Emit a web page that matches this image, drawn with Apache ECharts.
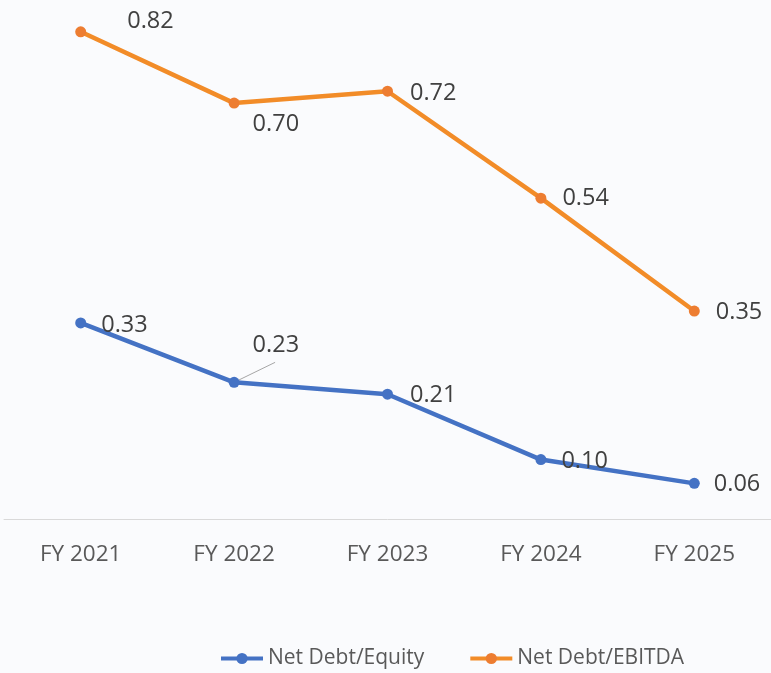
<!DOCTYPE html>
<html>
<head>
<meta charset="UTF-8">
<title>Net Debt ratios</title>
<style type="text/css">
	html, body { margin: 0; padding: 0; background: #fafbfd; }
	#main { width: 771px; height: 673px; }
</style>
<script type="text/javascript" src="https://cdn.jsdelivr.net/npm/echarts@6/dist/echarts.min.js"></script>
</head>
<body>
<div id="main"></div>
<script type="text/javascript">
	var categories = ['FY 2021', 'FY 2022', 'FY 2023', 'FY 2024', 'FY 2025'];
	var debtEquity = [0.33, 0.23, 0.21, 0.10, 0.06];
	var debtEbitda = [0.82, 0.70, 0.72, 0.54, 0.35];

	// label nudges, matching where the original placed each value
	var equityOffsets = [[10, 2], [8, -37], [12, 1], [10, 2], [9, 1]];
	var ebitdaOffsets = [[36, -11], [8, 21], [12, 2], [11, 0], [11, 1]];

	function buildData(values, offsets) {
		return values.map(function (v, i) {
			return { value: v, label: { offset: offsets[i] } };
		});
	}

	var labelStyle = {
		show: true,
		position: 'right',
		distance: 5,
		fontFamily: 'Open Sans',
		fontSize: 23.5,
		color: '#404040',
		formatter: function (p) { return p.value.toFixed(2); }
	};

	var chart = echarts.init(document.getElementById('main'));
	var option = {
		backgroundColor: '#fafbfd',
		animation: false,
		grid: { left: 4, width: 770, top: 14, bottom: 154 },
		legend: {
			left: 214,
			top: 643,
			itemWidth: 42,
			itemHeight: 14,
			itemGap: 44,
			lineStyle: { width: 4 },
			textStyle: { fontFamily: 'Open Sans', fontSize: 21, color: '#595959' },
			data: ['Net Debt/Equity', 'Net Debt/EBITDA']
		},
		xAxis: {
			type: 'category',
			data: categories,
			axisLine: { lineStyle: { color: '#d9d9d9', width: 1 } },
			axisTick: { show: false },
			axisLabel: { fontFamily: 'Open Sans', fontSize: 22.5, color: '#595959', margin: 24 }
		},
		yAxis: {
			type: 'value',
			min: 0,
			max: 0.85,
			show: false,
			splitLine: { show: false }
		},
		series: [
			{
				name: 'Net Debt/Equity',
				type: 'line',
				data: buildData(debtEquity, equityOffsets),
				symbol: 'circle',
				symbolSize: 11,
				itemStyle: { color: '#4472c4' },
				lineStyle: { color: '#4472c4', width: 4.5 },
				label: labelStyle
			},
			{
				name: 'Net Debt/EBITDA',
				type: 'line',
				data: buildData(debtEbitda, ebitdaOffsets),
				symbol: 'circle',
				symbolSize: 11,
				itemStyle: { color: '#ed7d31' },
				lineStyle: { color: '#f28c28', width: 4.5 },
				label: labelStyle
			}
		]
	};
	chart.setOption(option);

	// leader line from the FY 2022 equity point to its lifted label
	var p = chart.convertToPixel({ seriesIndex: 0 }, [1, debtEquity[1]]);
	chart.setOption({
		graphic: [{
			type: 'line',
			shape: { x1: p[0] + 2, y1: p[1] - 1, x2: p[0] + 41, y2: p[1] - 20 },
			style: { stroke: '#a6a6a6', lineWidth: 1 },
			z: 1
		}]
	});
</script>
</body>
</html>
